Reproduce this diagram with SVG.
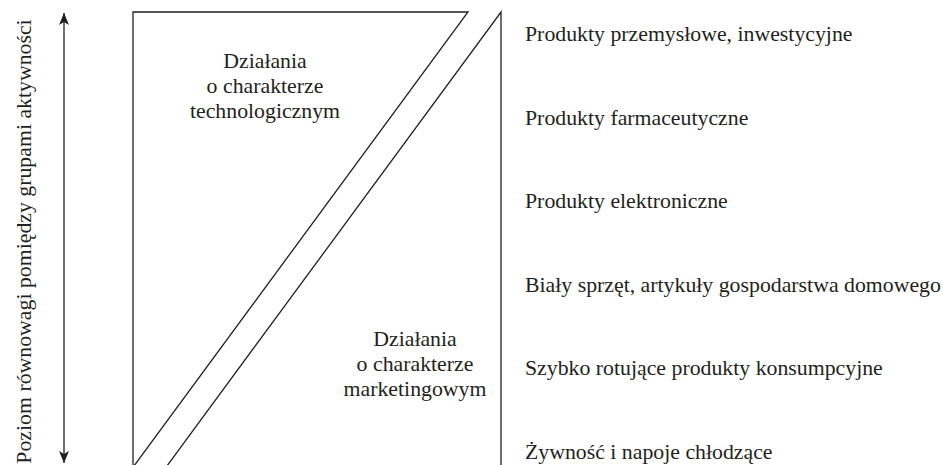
<svg xmlns="http://www.w3.org/2000/svg" width="943" height="465" viewBox="0 0 943 465">
  <style>
    .ln { fill: none; stroke: #231f20; stroke-width: 1.3; }
    .t { font-family: "Liberation Serif", "DejaVu Serif", serif; font-size: 21.8px; fill: #231f20; }
    .c { text-anchor: middle; }
  </style>
  <defs>
    <marker id="head" viewBox="0 0 12 10" refX="12" refY="5" markerWidth="12" markerHeight="10" markerUnits="userSpaceOnUse" orient="auto-start-reverse">
      <path d="M0,0 L12,5 L0,10 L3,5 Z" fill="#231f20"/>
    </marker>
  </defs>

  <rect width="943" height="465" fill="#ffffff"/>

  <!-- vertical axis with label -->
  <g id="axis">
    <line class="ln" x1="64" y1="13" x2="64" y2="463" marker-start="url(#head)" marker-end="url(#head)"/>
    <text class="t c" transform="translate(31,241.5) rotate(-90)">Poziom równowagi pomiędzy grupami aktywności</text>
  </g>

  <!-- upper-left wedge: technological activities -->
  <g id="tech">
    <path class="ln" d="M133,470 V12 H468 L131,470"/>
    <text class="t c" x="265" y="68">Działania</text>
    <text class="t c" x="265" y="93">o charakterze</text>
    <text class="t c" x="265" y="118">technologicznym</text>
  </g>

  <!-- lower-right wedge: marketing activities -->
  <g id="marketing">
    <path class="ln" d="M164,470 L501,12 V470"/>
    <text class="t c" x="415" y="346">Działania</text>
    <text class="t c" x="415" y="371">o charakterze</text>
    <text class="t c" x="415" y="396">marketingowym</text>
  </g>

  <!-- product groups -->
  <g id="products">
    <text class="t" x="525" y="41">Produkty przemysłowe, inwestycyjne</text>
    <text class="t" x="525" y="125">Produkty farmaceutyczne</text>
    <text class="t" x="525" y="208">Produkty elektroniczne</text>
    <text class="t" x="525" y="292">Biały sprzęt, artykuły gospodarstwa domowego</text>
    <text class="t" x="525" y="375">Szybko rotujące produkty konsumpcyjne</text>
    <text class="t" x="525" y="459">Żywność i napoje chłodzące</text>
  </g>
</svg>
